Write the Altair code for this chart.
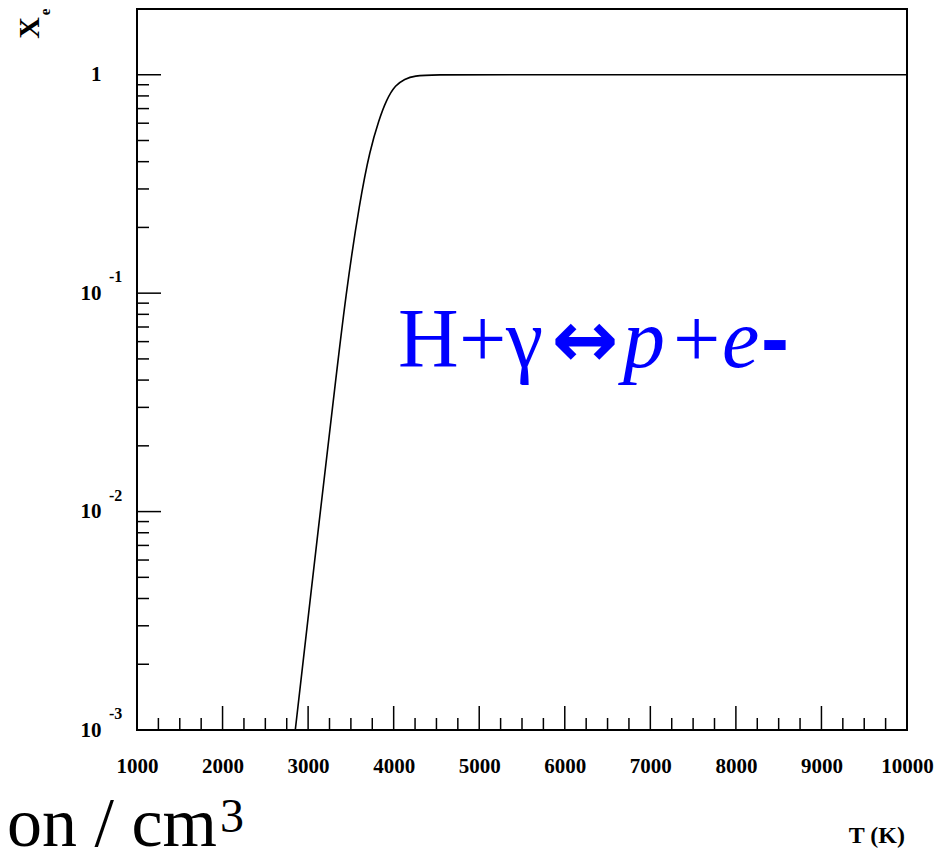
import altair as alt
import pandas as pd

# Curve: temperature (K) and ionisation fraction X_e
T = [2850, 3142, 3294, 3441, 3606, 3723, 3828, 3915, 4021, 4132, 4229, 4503, 5000, 10000]
XE = [0.001, 0.01, 0.032, 0.1, 0.267, 0.453, 0.622, 0.768, 0.90, 0.956, 0.99, 1.0, 1.0, 1.0]

X_MAJOR = list(range(1000, 10001, 1000))
X_MINOR = [v for v in range(1000, 10000, 250) if v % 1000 != 0]
Y_MAJOR = [0.001, 0.01, 0.1, 1]
Y_EXP_AT = [0.001, 0.01, 0.1]
Y_EXP = ["-3", "-2", "-1"]
Y_MINOR = [m * 10.0 ** e for e in (-3, -2, -1) for m in range(2, 10)]

W, H = 770, 721
SERIF = "Liberation Serif"

xs = alt.Scale(domain=[1000, 10000], nice=False, zero=False)
ys = alt.Scale(type="log", domain=[0.001, 2], nice=False)

xaxis = alt.Axis(
    values=X_MAJOR, format="d", ticks=False, domain=False, grid=False, title=None,
    labelFont=SERIF, labelFontWeight="bold", labelFontSize=21, labelColor="black",
    labelPadding=25, labelFlush=False, labelOverlap=False)
yaxis = alt.Axis(
    values=Y_MAJOR, labelExpr="datum.value == 1 ? '1' : '10'", ticks=False, domain=False,
    grid=False, title=None, labelFont=SERIF, labelFontWeight="bold", labelFontSize=21,
    labelColor="black", labelPadding=36, labelOverlap=False)

curve = pd.DataFrame({"T": T, "Xe": XE})

line = alt.Chart(curve).mark_line(color="black", strokeWidth=1.6, interpolate="basis", clip=True).encode(
    x=alt.X("T:Q", scale=xs, axis=xaxis),
    y=alt.Y("Xe:Q", scale=ys, axis=yaxis),
)

xmaj = alt.Chart(pd.DataFrame({"T": X_MAJOR})).mark_rule(color="black", strokeWidth=1.5).encode(
    x=alt.X("T:Q", scale=xs, axis=xaxis), y=alt.value(H), y2=alt.value(H - 24))
xmin = alt.Chart(pd.DataFrame({"T": X_MINOR})).mark_rule(color="black", strokeWidth=1.5).encode(
    x=alt.X("T:Q", scale=xs, axis=xaxis), y=alt.value(H), y2=alt.value(H - 12))
ymaj = alt.Chart(pd.DataFrame({"Xe": Y_MAJOR})).mark_rule(color="black", strokeWidth=1.5).encode(
    y=alt.Y("Xe:Q", scale=ys, axis=yaxis), x=alt.value(0), x2=alt.value(24))
ymin = alt.Chart(pd.DataFrame({"Xe": Y_MINOR})).mark_rule(color="black", strokeWidth=1.5).encode(
    y=alt.Y("Xe:Q", scale=ys, axis=yaxis), x=alt.value(0), x2=alt.value(12))

yexp = alt.Chart(pd.DataFrame({"Xe": Y_EXP_AT, "e": Y_EXP})).mark_text(
    align="left", baseline="middle", font=SERIF, fontWeight="bold", fontSize=16, dy=-16, color="black"
).encode(y=alt.Y("Xe:Q", scale=ys, axis=yaxis), x=alt.value(-28), text="e:N")


def label(text, x, y, size, color="black", font=SERIF, weight="normal", style="normal",
          align="left", baseline="alphabetic", angle=0):
    kw = dict(align=align, baseline=baseline, font=font, fontSize=size, fontWeight=weight,
              fontStyle=style, color=color, clip=False)
    if angle:
        kw["angle"] = angle
    return alt.Chart(pd.DataFrame({"t": [text]})).mark_text(**kw).encode(
        x=alt.value(x), y=alt.value(y), text="t:N")


BLUE = "#0000ff"
texts = [
    label("H", 261, 358, 84, BLUE),
    label("+", 322, 358, 84, BLUE),
    label("γ", 369, 358, 84, BLUE),
    label("↔", 448, 358, 80, BLUE, font="DejaVu Sans", weight="bold", align="center"),
    label("p", 486, 358, 84, BLUE, style="italic"),
    label("+", 536, 358, 84, BLUE),
    label("e", 585, 358, 84, BLUE, style="italic"),
    label("-", 624, 358, 84, BLUE, font="Liberation Sans", weight="bold"),
    label("T (K)", 768, 834, 24, weight="bold", align="right"),
    label("X", -107, 19, 30, weight="bold", align="center", baseline="middle", angle=270),
    label("e", -92, 3, 15, weight="bold", align="center", baseline="middle", angle=270),
    label("yon / cm", 80, 837, 70, align="right"),
    label("3", 83, 823, 48),
]

chart = alt.layer(line, xmaj, xmin, ymaj, ymin, yexp, *texts).properties(
    width=W, height=H,
    autosize=alt.AutoSizeParams(type="none"),
    padding={"left": 129, "top": 1, "right": 29, "bottom": 118},
).configure_view(stroke="black", strokeWidth=2)

chart.save("out.html", embed_options={"renderer": "svg", "actions": False})
